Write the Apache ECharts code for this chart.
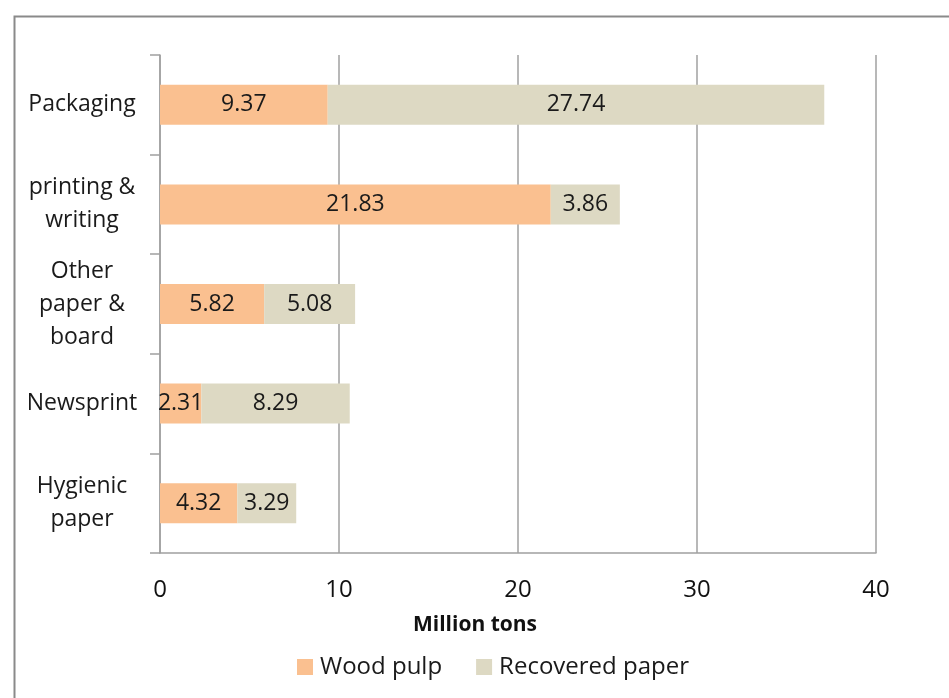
<!DOCTYPE html>
<html>
<head>
<meta charset="utf-8">
<script src="https://cdn.jsdelivr.net/npm/echarts@6/dist/echarts.min.js"></script>
<style>
html,body{margin:0;padding:0;background:#fff;}
#chart{width:949px;height:698px;}
</style>
</head>
<body>
<div id="chart"></div>
<script>
const categories = ['Packaging', 'printing &\nwriting', 'Other\npaper &\nboard', 'Newsprint', 'Hygienic\npaper'];
const woodPulp = [9.37, 21.83, 5.82, 2.31, 4.32];
const recoveredPaper = [27.74, 3.86, 5.08, 8.29, 3.29];
const seriesNames = ['Wood pulp', 'Recovered paper'];
const xTicks = [0, 40, 10];
const axisTitle = 'Million tons';

const FONT = '"Open Sans", sans-serif';
const chart = echarts.init(document.getElementById('chart'));
const labelStyle = {
  show: true, position: 'inside', color: '#1a1a1a', fontSize: 23, fontFamily: FONT,
  formatter: p => p.value.toFixed(2)
};
chart.setOption({
  animation: false,
  backgroundColor: '#fff',
  graphic: [{
    type: 'rect', left: 12, top: 14, shape: {x: 0, y: 0, width: 960, height: 720},
    style: {fill: 'none', stroke: '#8a8a8a', lineWidth: 2}, z: -10
  }],
  legend: {
    data: seriesNames, left: 292, top: 650, icon: 'rect', itemWidth: 16, itemHeight: 16,
    itemGap: 34,
    textStyle: {fontSize: 24, fontFamily: FONT, color: '#1a1a1a', padding: [0, 0, 0, 2]}
  },
  grid: {left: 160, right: 73, top: 55, bottom: 145, containLabel: false},
  xAxis: {
    type: 'value', min: xTicks[0], max: xTicks[1], interval: xTicks[2],
    name: axisTitle, nameLocation: 'middle', nameGap: 62,
    nameTextStyle: {fontSize: 21, fontWeight: 'bold', fontFamily: FONT, color: '#111', padding: [0, 86, 0, 0]},
    axisLine: {show: true, lineStyle: {color: '#a0a0a0', width: 1.5}},
    axisTick: {show: false},
    axisLabel: {fontSize: 24, fontFamily: FONT, color: '#111', margin: 25},
    splitLine: {show: true, lineStyle: {color: '#a0a0a0', width: 1.5}}
  },
  yAxis: {
    type: 'category', data: categories, inverse: true,
    axisLine: {show: true, lineStyle: {color: '#a0a0a0', width: 1.5}},
    axisTick: {show: true, length: 10, lineStyle: {color: '#a0a0a0', width: 1.5}},
    axisLabel: {fontSize: 23, fontFamily: FONT, color: '#1a1a1a', margin: 78, align: 'center', lineHeight: 33}
  },
  series: [
    {name: seriesNames[0], type: 'bar', stack: 'total', data: woodPulp, barWidth: 40,
     itemStyle: {color: '#FAC090'}, label: labelStyle},
    {name: seriesNames[1], type: 'bar', stack: 'total', data: recoveredPaper, barWidth: 40,
     itemStyle: {color: '#DDD9C3'}, label: labelStyle}
  ]
});
</script>
</body>
</html>
